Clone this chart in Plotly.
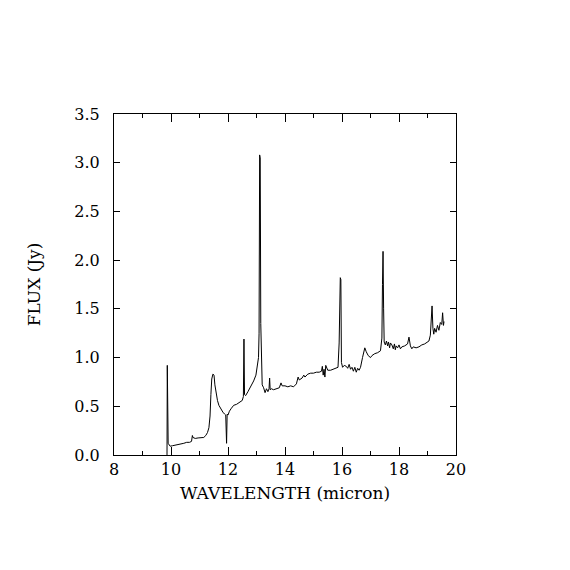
import plotly.graph_objects as go

wavelength = [9.86, 9.87, 9.88, 9.89, 9.90, 9.93, 9.97, 10.05, 10.15, 10.25, 10.35, 10.45, 10.55, 10.65,
              10.72, 10.75, 10.77, 10.85, 10.95, 11.05, 11.15, 11.22, 11.28, 11.33, 11.37, 11.40, 11.43,
              11.47, 11.51, 11.54, 11.58, 11.63, 11.68, 11.75, 11.82, 11.88, 11.92, 11.95, 11.97, 12.0,
              12.05, 12.12, 12.2, 12.3, 12.4, 12.5, 12.54, 12.56, 12.58, 12.62, 12.7, 12.8, 12.9, 12.98,
              13.03, 13.07, 13.09, 13.11, 13.13, 13.15, 13.17, 13.2, 13.25, 13.3, 13.35, 13.4, 13.44,
              13.46, 13.48, 13.52, 13.6, 13.7, 13.8, 13.86, 13.9, 14.0, 14.1, 14.2, 14.3, 14.4, 14.46,
              14.5, 14.6, 14.66, 14.7, 14.8, 14.9, 15.0, 15.1, 15.2, 15.28, 15.31, 15.34, 15.37, 15.4,
              15.43, 15.5, 15.6, 15.7, 15.8, 15.86, 15.9, 15.92, 15.94, 15.96, 15.98, 16.02, 16.08,
              16.15, 16.2, 16.25, 16.3, 16.35, 16.4, 16.45, 16.5, 16.55, 16.6, 16.65, 16.72, 16.8,
              16.85, 16.92, 17.0, 17.05, 17.15, 17.25, 17.35, 17.4, 17.42, 17.44, 17.46, 17.48, 17.52,
              17.56, 17.6, 17.63, 17.67, 17.7, 17.75, 17.8, 17.84, 17.87, 17.9, 17.95, 18.0, 18.05, 18.1,
              18.2, 18.3, 18.35, 18.4, 18.45, 18.5, 18.6, 18.7, 18.8, 18.9, 19.0, 19.05, 19.1, 19.13,
              19.16, 19.19, 19.22, 19.25, 19.3, 19.35, 19.4, 19.45, 19.5, 19.53, 19.56, 19.58]

flux = [0.0, 0.92, 0.90, 0.40, 0.12, 0.10, 0.09, 0.095, 0.10, 0.11, 0.115, 0.12, 0.13, 0.13,
        0.14, 0.20, 0.18, 0.17, 0.175, 0.175, 0.18, 0.20, 0.23, 0.28, 0.40, 0.62, 0.78,
        0.83, 0.82, 0.72, 0.63, 0.56, 0.51, 0.47, 0.44, 0.42, 0.41, 0.12, 0.42, 0.41,
        0.45, 0.48, 0.51, 0.52, 0.54, 0.56, 0.60, 1.19, 0.62, 0.61, 0.65, 0.70, 0.76, 0.82,
        0.90, 1.0, 1.25, 3.08, 3.05, 1.35, 0.85, 0.72, 0.69, 0.64, 0.68, 0.65, 0.68,
        0.79, 0.67, 0.68, 0.67, 0.68, 0.69, 0.74, 0.71, 0.71, 0.70, 0.71, 0.70, 0.73, 0.80,
        0.77, 0.79, 0.82, 0.80, 0.83, 0.84, 0.84, 0.85, 0.85, 0.86, 0.91, 0.82, 0.88, 0.80,
        0.92, 0.87, 0.87, 0.88, 0.89, 0.90, 1.15, 1.50, 1.82, 1.80, 0.95, 0.90, 0.92,
        0.91, 0.89, 0.93, 0.88, 0.90, 0.86, 0.90, 0.85, 0.89, 0.87, 0.90, 1.00, 1.10,
        1.06, 1.02, 1.00, 1.02, 1.04, 1.05, 1.07, 1.20, 1.75, 2.09, 1.50, 1.16, 1.13,
        1.17, 1.12, 1.16, 1.10, 1.15, 1.13, 1.09, 1.14, 1.08, 1.12, 1.10, 1.13, 1.09, 1.11,
        1.12, 1.14, 1.21, 1.12, 1.09, 1.11, 1.10, 1.11, 1.13, 1.14, 1.16, 1.17, 1.23, 1.35,
        1.53, 1.30, 1.24, 1.30, 1.26, 1.33, 1.28, 1.36, 1.34, 1.46, 1.33, 1.37]

x_ticks = [8, 10, 12, 14, 16, 18, 20]
y_ticks = [0.0, 0.5, 1.0, 1.5, 2.0, 2.5, 3.0, 3.5]

font_family = "DejaVu Serif"

fig = go.Figure()
fig.add_trace(go.Scatter(x=wavelength, y=flux, mode="lines",
                         line=dict(color="black", width=1), showlegend=False,
                         hoverinfo="skip"))

fig.update_layout(
    width=570, height=570,
    margin=dict(l=106, r=122, t=106, b=123),
    paper_bgcolor="white", plot_bgcolor="white",
    font=dict(family=font_family, size=14, color="black"),
)
fig.update_xaxes(
    range=[8, 20], tickvals=x_ticks, ticktext=[str(v) for v in x_ticks],
    ticks="inside", ticklen=8, tickwidth=1, tickcolor="black",
    minor=dict(dtick=1, ticks="inside", ticklen=4, tickcolor="black", tickwidth=1, showgrid=False),
    showline=True, linecolor="black", linewidth=1, mirror="allticks",
    showgrid=False, zeroline=False,
    title=dict(text="WAVELENGTH (micron)", standoff=8),
    tickfont=dict(size=16),
)
fig.update_yaxes(
    range=[0, 3.5], tickvals=y_ticks, ticktext=[f"{v:.1f}" for v in y_ticks],
    ticks="inside", ticklen=6, tickwidth=1, tickcolor="black",
    showline=True, linecolor="black", linewidth=1, mirror="allticks",
    showgrid=False, zeroline=False,
    ticklabelstandoff=10,
    title=dict(text="FLUX (Jy)", standoff=29),
    tickfont=dict(size=16),
)

fig.write_html("out.html")
